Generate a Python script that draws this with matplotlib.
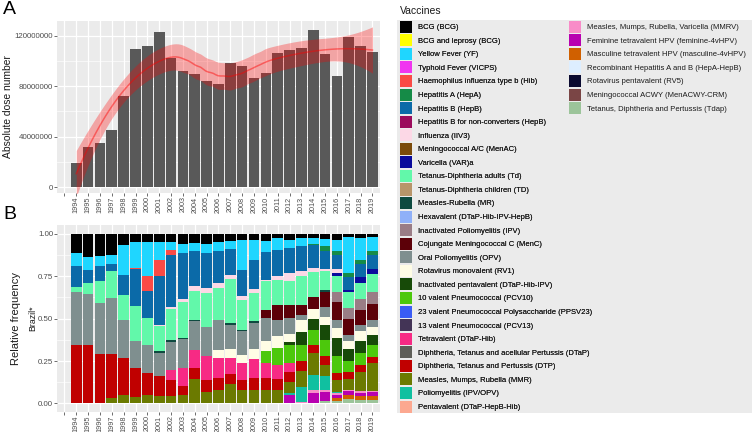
"""
Vaccine doses in Brazil, 1994-2019
A: absolute dose number per year with a loess trend
B: relative frequency of each vaccine per year
"""

import numpy as np
import matplotlib
matplotlib.use("Agg")
import matplotlib.pyplot as plt
from matplotlib.patches import Patch, Rectangle

plt.rcParams['font.family'] = ['Liberation Sans', 'DejaVu Sans']

years = [str(y) for y in range(1994, 2020)]

# panel A: total doses per year
doses = [19.5e6, 32.1e6, 34.7e6, 45.3e6, 72.1e6, 109.5e6, 111.8e6, 122.9e6, 102.4e6,
         91.6e6, 89.7e6, 83.9e6, 81.6e6, 98.2e6, 95.8e6, 86.3e6, 90.5e6, 106.3e6,
         108.7e6, 110.3e6, 124.7e6, 105.8e6, 88.2e6, 119.2e6, 111.8e6, 106.6e6]

# panel B: share of each vaccine per year (percent)
bcg = [11.2, 13.8, 13.2, 12.2, 6.7, 5.0, 4.7, 4.7, 4.5, 6.0, 5.3, 5.9, 4.7, 4.0, 3.4,
       3.5, 4.0, 2.4, 3.4, 2.4, 2.4, 2.8, 3.4, 2.0, 2.4, 2.0]
bcg_leprosy = [0] * 26
yf = [7.9, 7.3, 5.9, 5.5, 17.3, 15.0, 20.4, 10.5, 5.0, 5.0, 4.9, 5.3, 5.5, 4.7, 17.7,
      11.5, 6.7, 6.9, 4.9, 4.9, 3.6, 4.5, 6.5, 21.0, 12.8, 7.9]
typhoid = [0] * 26
hib = [0, 0, 0, 0, 0, 1.0, 8.5, 9.8, 3.0] + [0] * 17
hepa = [0] * 9 + [0.5] + [0] * 10 + [0.7, 3.0, 2.7, 2.6, 2.6, 2.3]
hepb = [12.4, 7.9, 8.5, 4.4, 12.2, 21.5, 15.8, 28.6, 30.5, 27.0, 20.8, 20.7, 18.8, 15.4,
        15.8, 17.1, 16.3, 15.7, 14.7, 14.7, 13.3, 10.2, 7.9, 7.4, 7.8, 8.3]
hepb_nc = [0] * 26
influenza = [0] * 7 + [0.9, 1.0, 1.5, 2.9, 3.0, 2.9, 2.3, 1.9, 2.6, 1.0, 2.0, 5.0, 3.0,
                       2.5, 1.5, 2.5, 0, 0, 0]
menac = [0] * 26
var = [0] * 22 + [2.0, 1.3, 3.4, 3.2]
td = [2.8, 6.5, 13.2, 15.7, 14.4, 21.0, 16.0, 14.8, 18.5, 21.5, 16.7, 20.2, 18.7, 26.2,
      17.7, 16.5, 16.7, 14.7, 13.7, 16.7, 14.5, 11.0, 9.0, 9.4, 9.2, 10.6]
td_children = [0] * 26
mr = [0] * 7 + [1.0, 1.0, 0.5, 1.0, 0, 0, 1.3, 1.0, 1.2, 0, 0, 0, 0, 0, 1.3, 0, 0, 0, 0]
hexavalent = [0] * 26
ipv = [0] * 22 + [6.0, 6.3, 6.5, 7.1]
menc = [0] * 16 + [4.9, 8.9, 7.9, 6.3, 7.0, 9.0, 10.6, 9.5, 8.9, 9.2]
opv = [31.5, 29.9, 30.1, 33.1, 22.6, 16.0, 16.7, 13.8, 16.5, 17.0, 16.8, 17.2, 17.8, 13.8,
       13.8, 15.2, 13.8, 9.9, 9.5, 2.6, 0, 5.9, 4.9, 3.9, 3.9, 4.5]
rv1 = [0] * 12 + [4.8, 5.5, 4.9, 5.9, 5.5, 6.8, 4.7, 7.3, 6.0, 4.8, 5.9, 4.3, 5.5, 4.3]
inact_penta = [0] * 18 + [2.0, 7.5, 6.5, 8.4, 10.9, 7.5, 7.3, 6.3]
pcv10 = [0] * 16 + [7.3, 9.9, 10.4, 9.8, 9.0, 9.9, 9.8, 6.3, 6.9, 7.1]
ppsv23 = [0] * 26
pcv13 = [0] * 26
tetravalent = [0] * 8 + [6.0, 11.0, 10.7, 13.8, 11.9, 9.5, 9.9, 10.8, 8.9, 8.3, 5.3] + [0] * 7
dtap = [0] * 26
dtp = [34.2, 34.6, 29.1, 26.0, 21.7, 17.0, 12.8, 11.8, 9.0, 5.0, 6.3, 6.9, 6.9, 5.9, 5.9,
       6.9, 6.9, 6.5, 5.9, 5.5, 4.5, 4.9, 3.9, 4.0, 4.3, 3.4]
mmr = [0, 0, 0, 3.1, 5.1, 4.0, 5.1, 4.1, 4.5, 5.0, 14.6, 7.0, 8.0, 11.4, 8.0, 8.0, 8.0,
       8.0, 6.5, 9.9, 13.0, 6.9, 7.0, 6.5, 11.4, 16.3]
polio = [0] * 18 + [1.4, 8.6, 9.0, 7.9, 1.0, 0, 0, 0]
pentavalent = [0] * 26
mmrv = [0] * 19 + [0.8, 2.0, 1.4, 1.0, 0.9, 0.8, 0.8]
fem_hpv = [0] * 18 + [4.7, 0, 6.0, 5.1, 2.0, 2.4, 2.2, 2.6]
masc_hpv = [0] * 22 + [1.5, 2.0, 2.1, 2.1]
hepa_hepb = [0] * 26
rv5 = [0] * 26
menacwy = [0] * 26
tdap = [0] * 21 + [1.5, 1.5, 2.7, 2.0, 2.0]

vaccines = [
    "BCG (BCG)", "BCG and leprosy (BCG)", "Yellow Fever (YF)", "Typhoid Fever (VICPS)",
    "Haemophilus influenza type b (Hib)", "Hepatitis A (HepA)", "Hepatitis B (HepB)",
    "Hepatitis B for non-converters (HepB)", "Influenza (IIV3)", "Meningococcal A/C (MenAC)",
    "Varicella (VAR)a", "Tetanus-Diphtheria adults (Td)", "Tetanus-Diphtheria children (TD)",
    "Measles-Rubella (MR)", "Hexavalent (DTaP-Hib-IPV-HepB)", "Inactivated Poliomyelitis (IPV)",
    "Cojungate Meningococcal C (MenC)", "Oral Poliomyelitis (OPV)", "Rotavirus monovalent (RV1)",
    "Inactivated pentavalent (DTaP-Hib-IPV)", "10 valent Pneumococcal (PCV10)",
    "23 valent Pneumococcal Polysaccharide (PPSV23)", "13 valent Pneumococcal (PCV13)",
    "Tetravalent (DTaP-Hib)", "Diphtheria, Tetanus and acellular Pertussis (DTaP)",
    "Diphtheria, Tetanus and Pertussis (DTP)", "Measles, Mumps, Rubella (MMR)",
    "Poliomyelitis (IPV/OPV)", "Pentavalent (DTaP-HepB-Hib)",
    "Measles, Mumps, Rubella, Varicella (MMRV)", "Feminine tetravalent HPV (feminine-4vHPV)",
    "Masculine tetravalent HPV (masculine-4vHPV)", "Recombinant Hepatitis A and B (HepA-HepB)",
    "Rotavirus pentavalent (RV5)", "Meningococcal ACWY (MenACWY-CRM)",
    "Tetanus, Diphtheria and Pertussis (Tdap)",
]
vaccine_colors = [
    "#000000", "#ffff00", "#1fd6ff", "#f035f0", "#fa4a45", "#158b47", "#0b6aa8", "#9b0a5c",
    "#fcd8e6", "#7b4b0b", "#0a0a9c", "#62f8aa", "#b8956a", "#0e4a40", "#8fb0f8", "#9a7d86",
    "#5c0008", "#7f8f8f", "#fffde5", "#174a08", "#4cc80c", "#3a5cf5", "#433456", "#f72a84",
    "#5e5e58", "#c00000", "#6b7a00", "#10c0a0", "#fca890", "#f88cc8", "#b800b0", "#d06000",
    "#ddeeff", "#0a0a30", "#7a4545", "#9cc49a",
]
shares = [bcg, bcg_leprosy, yf, typhoid, hib, hepa, hepb, hepb_nc, influenza, menac, var,
          td, td_children, mr, hexavalent, ipv, menc, opv, rv1, inact_penta, pcv10, ppsv23,
          pcv13, tetravalent, dtap, dtp, mmr, polio, pentavalent, mmrv, fem_hpv, masc_hpv,
          hepa_hepb, rv5, menacwy, tdap]


def loess_matrix(x, xs, span=0.75):
    """Rows of the local quadratic (tricube) smoother, as in R's loess"""
    n = len(x)
    q = int(np.floor(n * span))
    rows = []
    for x0 in xs:
        d = np.abs(x - x0)
        h = np.sort(d)[q - 1]
        w = np.clip(1 - (d / h) ** 3, 0, None) ** 3
        B = np.vstack([np.ones(n), x - x0, (x - x0) ** 2]).T
        BW = B.T * w
        rows.append(np.linalg.solve(BW @ B, BW)[0])
    return np.array(rows)


W, H = 752, 432
fig = plt.figure(figsize=(W / 100, H / 100), dpi=100)

def fig_box(left, top, right, bottom):
    return [left / W, 1 - bottom / H, (right - left) / W, (bottom - top) / H]

ax_a = fig.add_axes(fig_box(57.3, 21, 379.6, 193))
ax_b = fig.add_axes(fig_box(57.3, 225, 379.6, 412))

x = np.arange(len(years))
y = np.array(doses)

# --- panel A
ax_a.bar(x, y, width=0.9, color="#595959", zorder=2)

L = loess_matrix(x.astype(float), x.astype(float))
fit = L @ y
resid = y - fit
IL = np.eye(len(x)) - L
sigma = np.sqrt(np.sum(resid ** 2) / np.trace(IL.T @ IL))
xs = np.linspace(0, len(x) - 1, 120)
Lg = loess_matrix(x.astype(float), xs)
smooth = Lg @ y
se = sigma * np.sqrt(np.sum(Lg ** 2, axis=1))
t_crit = 2.08  # ~ t(0.975, ~21 df)
ax_a.fill_between(xs, smooth - t_crit * se, smooth + t_crit * se, color="red",
                  alpha=0.3, lw=0, zorder=3)
ax_a.plot(xs, smooth, color="red", alpha=0.45, lw=1.1, zorder=4)

ax_a.set_ylim(-4.5e6, 131.5e6)
ax_a.set_yticks([0, 40e6, 80e6, 120e6])
ax_a.set_yticklabels(["0", "40000000", "80000000", "120000000"])
ax_a.set_yticks([20e6, 60e6, 100e6], minor=True)
ax_a.set_ylabel("Absolute dose number", fontsize=7.4, color="#1a1a1a", labelpad=1)

# --- panel B (position = fill)
totals = np.sum(np.array(shares, dtype=float), axis=0)
bottom = np.zeros(len(years))
for name, col, vals in reversed(list(zip(vaccines, vaccine_colors, shares))):
    frac = np.array(vals, dtype=float) / totals
    ax_b.bar(x, frac, width=0.9, bottom=bottom, color=col, lw=0, zorder=2)
    bottom += frac

ax_b.set_ylim(-0.051, 1.053)
ax_b.set_yticks([0, 0.25, 0.5, 0.75, 1.0])
ax_b.set_yticklabels(["0.00", "0.25", "0.50", "0.75", "1.00"])
ax_b.set_yticks([0.125, 0.375, 0.625, 0.875], minor=True)
ax_b.set_ylabel("Relative frequency", fontsize=8, color="#1a1a1a", labelpad=12)
ax_b.text(-0.075, 0.5, "Brazil*", transform=ax_b.transAxes, rotation=90,
          fontsize=6.3, color="#1a1a1a", ha="center", va="center")

for ax in (ax_a, ax_b):
    ax.set_facecolor("#ebebeb")
    for s in ax.spines.values():
        s.set_visible(False)
    ax.set_xlim(-1.6, 25.6)
    ax.set_xticks(np.arange(-1, len(years)))
    ax.set_xticklabels([""] + years, rotation=90)
    ax.set_axisbelow(True)
    ax.grid(which="major", color="white", lw=0.9)
    ax.grid(which="minor", axis="y", color="white", lw=0.45)
    ax.tick_params(which="major", length=2, width=0.5, color="#333333",
                   labelsize=5.7, labelcolor="#4d4d4d", pad=1)
    ax.tick_params(which="minor", length=0)
    ax.tick_params(axis="x", labelsize=5.2, pad=0.5)

# --- legend
fig.patches.append(Rectangle((396.7 / W, 1 - 413 / H), (W - 396.7) / W, (413 - 20) / H,
                             transform=fig.transFigure, facecolor="#ebebeb",
                             edgecolor="none", zorder=0))
fig.text(400 / W, 1 - 11 / H, "Vaccines", fontsize=7.5, color="#1a1a1a", va="center")

handles = [Patch(facecolor=c, edgecolor="none", label=n)
           for n, c in zip(vaccines, vaccine_colors)]
leg_kw = dict(loc="upper left", fontsize=5.5, frameon=False, borderpad=0,
              borderaxespad=0, handlelength=1.57, handleheight=2.04,
              labelspacing=0.205, handletextpad=0.75, labelcolor="#1a1a1a")
leg1 = fig.legend(handles=handles[:29], bbox_to_anchor=(400 / W, 1 - 20.7 / H), **leg_kw)
fig.legend(handles=handles[29:], bbox_to_anchor=(569 / W, 1 - 20.7 / H), **leg_kw)
fig.add_artist(leg1)

fig.text(3 / W, 1 - 10 / H, "A", fontsize=14, va="center", ha="left")
fig.text(3 / W, 1 - 215 / H, "B", fontsize=14, va="center", ha="left")

fig.savefig("out.png", dpi=100)
